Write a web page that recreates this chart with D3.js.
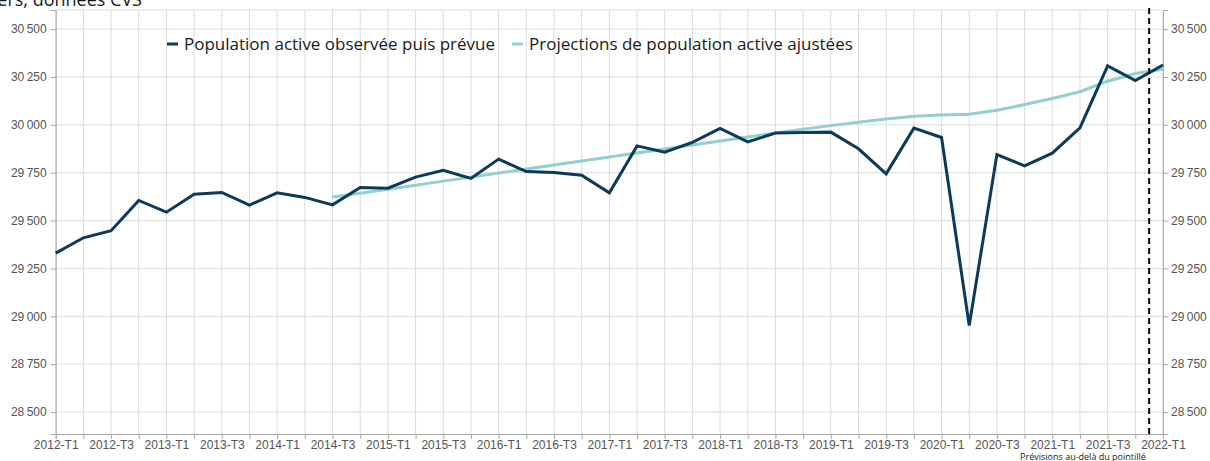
<!DOCTYPE html>
<html>
<head>
<meta charset="utf-8">
<script src="https://cdn.jsdelivr.net/npm/d3@7"></script>
<style>
  body { margin: 0; background: #ffffff; }
  svg { display: block; font-family: "Open Sans", sans-serif; }
  .tick text { fill: #555555; font-size: 12px; }
</style>
</head>
<body>
<svg id="chart" width="1210" height="461"></svg>
<script>
// quarters 2012-T1 .. 2022-T1
const years = [2012, 2013, 2014, 2015, 2016, 2017, 2018, 2019, 2020, 2021, 2022];
const quarters = [];
years.forEach((y) => {
  ["T1", "T2", "T3", "T4"].forEach((q) => {
    if (y < 2022 || q === "T1") quarters.push(y + "-" + q);
  });
});

const tickLabels = [
  "2012-T1", "2012-T3", "2013-T1", "2013-T3", "2014-T1", "2014-T3", "2015-T1",
  "2015-T3", "2016-T1", "2016-T3", "2017-T1", "2017-T3", "2018-T1", "2018-T3",
  "2019-T1", "2019-T3", "2020-T1", "2020-T3", "2021-T1", "2021-T3", "2022-T1",
];

const yTicks = [28500, 28750, 29000, 29250, 29500, 29750, 30000, 30250, 30500];

// population active observée puis prévue (milliers)
const observed = [
  29330, 29410, 29447, 29605, 29544, 29638, 29647, 29581, 29645, 29621,
  29582, 29673, 29669, 29727, 29762, 29720, 29821, 29756, 29751, 29737,
  29645, 29890, 29857, 29908, 29981, 29911, 29957, 29960, 29962, 29875,
  29744, 29983, 29934, 28952, 29845, 29786, 29852, 29984, 30308, 30231,
  30313,
];

// projections ajustées, à partir de 2014-T3
const projStart = "2014-T3";
const projected = [
  29623, 29643, 29664, 29685, 29706, 29727, 29748, 29769, 29790, 29811,
  29832, 29853, 29874, 29895, 29916, 29937, 29957, 29977, 29996, 30014,
  30031, 30045, 30052, 30056, 30076, 30106, 30138, 30173, 30228, 30268,
  30291,
];

const forecastAfter = ["2021-T4", "2022-T1"];

const series = ["Population active observée puis prévue", "Projections de population active ajustées"];
const colors = ["#0c3a5b", "#92cfcf"];

const margin = { top: 10, right: 47, bottom: 27, left: 55.7 };
const W = 1210, H = 461;
const plotW = W - margin.left - margin.right;
const plotH = H - margin.top - margin.bottom;

const svg = d3.select("#chart");
const g = svg.append("g").attr("transform", `translate(${margin.left},${margin.top})`);

const x = d3.scalePoint().domain(quarters).range([0, plotW]);
const y = d3.scaleLinear().domain([28385, 30600]).range([plotH, 0]);

const fr = d3.formatLocale({ decimal: ",", thousands: "\u2009", grouping: [3], currency: ["", " €"] });
const fmt = fr.format(",d");

// grid
g.append("g")
  .selectAll("line.v")
  .data(quarters)
  .join("line")
  .attr("x1", (d) => x(d))
  .attr("x2", (d) => x(d))
  .attr("y1", 0)
  .attr("y2", plotH)
  .attr("stroke", "#dcdcdc")
  .attr("stroke-width", 1);
g.append("g")
  .selectAll("line.h")
  .data(yTicks)
  .join("line")
  .attr("x1", 0)
  .attr("x2", plotW)
  .attr("y1", (d) => y(d))
  .attr("y2", (d) => y(d))
  .attr("stroke", "#dcdcdc");
g.append("line")
  .attr("x1", 0).attr("x2", plotW)
  .attr("y1", 0).attr("y2", 0)
  .attr("stroke", "#dcdcdc");

// axes
const axisLeft = g.append("g")
  .call(d3.axisLeft(y).tickValues(yTicks).tickFormat(fmt).tickSize(5).tickPadding(4));
const axisRight = g.append("g")
  .attr("transform", `translate(${plotW},0)`)
  .call(d3.axisRight(y).tickValues(yTicks).tickFormat(fmt).tickSize(5).tickPadding(3));
const axisBottom = g.append("g")
  .attr("transform", `translate(0,${plotH})`)
  .call(d3.axisBottom(x).tickSize(5).tickPadding(1)
    .tickFormat((d) => (tickLabels.includes(d) ? d : "")));

[axisLeft, axisRight, axisBottom].forEach((a) => {
  a.select(".domain").attr("stroke", "#a8a8a8");
  a.selectAll(".tick line").attr("stroke", "#a8a8a8");
});
axisBottom.selectAll(".tick text").attr("font-size", 12);

// lines
const line = d3.line()
  .x((d) => x(d.q))
  .y((d) => y(d.v));

const obsData = quarters.map((q, i) => ({ q, v: observed[i] }));
const i0 = quarters.indexOf(projStart);
const projData = projected.map((v, i) => ({ q: quarters[i0 + i], v }));

g.append("path")
  .datum(projData)
  .attr("fill", "none")
  .attr("stroke", colors[1])
  .attr("stroke-width", 3)
  .attr("d", line);

g.append("path")
  .datum(obsData)
  .attr("fill", "none")
  .attr("stroke", colors[0])
  .attr("stroke-width", 3)
  .attr("d", line);

// forecast separator
const xf = (x(forecastAfter[0]) + x(forecastAfter[1])) / 2;
g.append("line")
  .attr("x1", xf).attr("x2", xf)
  .attr("y1", -2).attr("y2", plotH)
  .attr("stroke", "#000")
  .attr("stroke-width", 2)
  .attr("stroke-dasharray", "6,4");

// legend
const legend = svg.append("g").attr("transform", "translate(167,44)");
const legX = [0, 345];
series.forEach((s, i) => {
  const lg = legend.append("g").attr("transform", `translate(${legX[i]},0)`);
  lg.append("line")
    .attr("x1", 0).attr("x2", 11)
    .attr("y1", 0).attr("y2", 0)
    .attr("stroke", colors[i])
    .attr("stroke-width", 3);
  lg.append("text")
    .attr("x", 17)
    .attr("y", 6)
    .attr("font-size", 17)
    .attr("fill", "#1a1a1a")
    .text(s);
});

// titles
svg.append("text")
  .attr("x", 142)
  .attr("y", 6)
  .attr("text-anchor", "end")
  .attr("font-size", 18)
  .attr("fill", "#1a1a1a")
  .text("Milliers, données CVS");

svg.append("text")
  .attr("x", 1083)
  .attr("y", 460)
  .attr("text-anchor", "middle")
  .attr("font-size", 9)
  .attr("fill", "#1a1a1a")
  .text("Prévisions au-delà du pointillé");
</script>
</body>
</html>
